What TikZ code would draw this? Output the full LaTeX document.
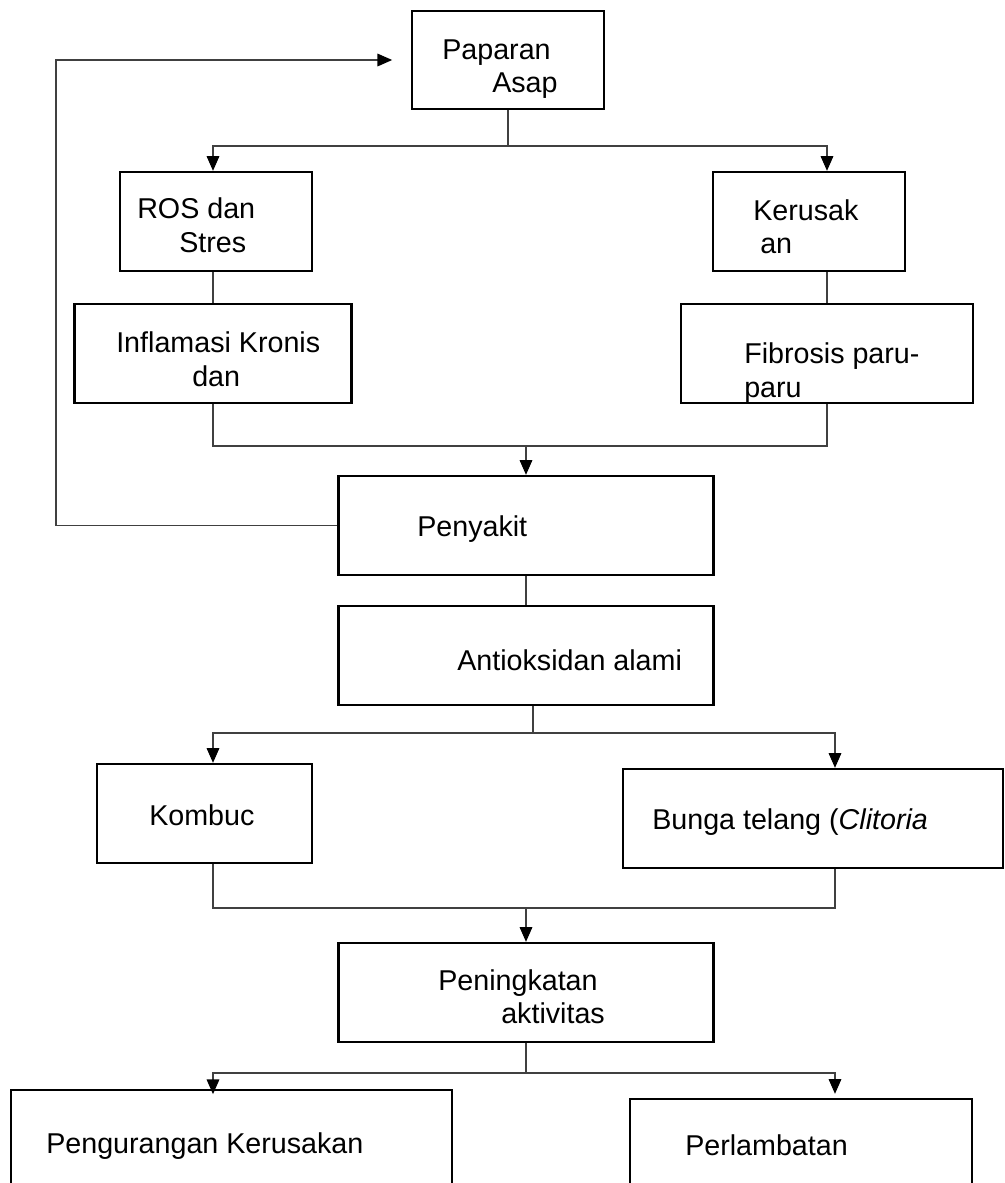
\documentclass[tikz,border=0pt]{standalone}
\usepackage{fontspec}
\setmainfont{Liberation Sans}
\usepackage{tikz}
\usetikzlibrary{arrows.meta,positioning}

\tikzset{
  box/.style 2 args={draw, line width=1.8pt, minimum width=#1*0.75pt, minimum height=#2*0.75pt, inner sep=0pt},
  lbl/.style={anchor=base west, inner sep=0pt, font=\fontsize{21.5}{26}\selectfont},
  link/.style={draw=black!75, line width=0.8pt},
  arr/.style={-{Triangle[length=11pt,width=9.5pt,fill=black,color=black]}}
}

\begin{document}
\begin{tikzpicture}[x=0.75pt,y=-0.75pt]
\useasboundingbox (0,0) rectangle (1005,1183);
\clip (0,0) rectangle (1005,1183);
\fill[white] (0,0) rectangle (1005,1183);
% boxes
\node[box={192}{98}] (pap) at (508,60) {};
\node[box={192}{99}] (ros) at (216,221.5) {};
\node[box={192}{99}] (ker) at (809,221.5) {};
\node[box={277}{99}] (inf) at (213,353.5) {};
\node[box={292}{99}] (fib) at (827,353.5) {};
\node[box={375}{99}] (pen) at (526,525.5) {};
\node[box={375}{99}] (ant) at (526,655.5) {};
\node[box={215}{99}] (kom) at (204.5,813.5) {};
\node[box={380}{99}] (bun) at (813,818.5) {};
\node[box={375}{99}] (pek) at (526,992.5) {};
\node[box={441}{110}] (pgr) at (231.5,1145) {};
\node[box={342}{110}] (prl) at (801,1154) {};
% texts
\node[lbl] (t1a) at (442,59) {Paparan};
\node[lbl] (t1b) at (492,92) {Asap};
\node[lbl] (t2a) at (137,218) {ROS dan};
\node[lbl] (t2b) at (179,252) {Stres};
\node[lbl] (t3a) at (753,220) {Kerusak};
\node[lbl] (t3b) at (760,253) {an};
\node[lbl] (t4a) at (116,352) {Inflamasi Kronis};
\node[lbl] (t4b) at (192,386) {dan};
\node[lbl] (t5a) at (744,363) {Fibrosis paru-};
\node[lbl] (t5b) at (744,397) {paru};
\node[lbl] (t6) at (417,536) {Penyakit};
\node[lbl] (t7) at (457,670) {Antioksidan alami};
\node[lbl] (t8) at (149,825) {Kombuc};
\node[lbl] (t9) at (652,829) {Bunga telang (\textit{Clitoria}};
\node[lbl] (t10a) at (438,990) {Peningkatan};
\node[lbl] (t10b) at (501,1023) {aktivitas};
\node[lbl] (t11) at (46,1153) {Pengurangan Kerusakan};
\node[lbl] (t12) at (685,1155) {Perlambatan};
% branch points
\coordinate (fbx) at (56,300);
\coordinate (sp1) at (508,146);
\coordinate (mg1) at (526,446);
\coordinate (sp2) at (533,733);
\coordinate (mg2) at (526,908);
\coordinate (sp3) at (526,1073);
\coordinate (cl) at (213,0);
\coordinate (cr) at (835,0);
% connectors
\draw[link,arr,shorten >=14pt] (pen.west) -| (fbx) |- (pap.west);
\draw[link] (pap.south) -- (sp1);
\draw[link,arr] (sp1) -| (ros.north -| inf.north);
\draw[link,arr] (sp1) -| (ker.north -| fib.north);
\draw[link] (ros.south -| inf.north) -- (inf.north);
\draw[link] (ker.south -| fib.north) -- (fib.north);
\draw[link] (inf.south) |- (mg1) -| (fib.south);
\draw[link,arr] (mg1) -- (pen.north);
\draw[link] (pen.south) -- (ant.north);
\draw[link] (ant.south -| sp2) -- (sp2);
\draw[link,arr] (sp2) -| (kom.north -| cl);
\draw[link,arr] (sp2) -| (bun.north -| cr);
\draw[link] (kom.south -| cl) |- (mg2) -| (bun.south -| cr);
\draw[link,arr] (mg2) -- (pek.north);
\draw[link] (pek.south) -- (sp3);
\draw[link,arr,shorten >=-4pt] (sp3) -| (pgr.north -| cl);
\draw[link,arr,shorten >=3pt] (sp3) -| (prl.north -| cr);
\end{tikzpicture}
\end{document}
